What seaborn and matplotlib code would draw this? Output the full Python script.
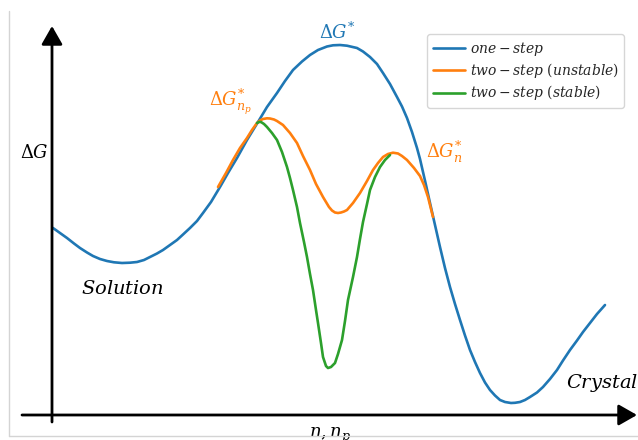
import matplotlib
matplotlib.use("Agg")
import matplotlib.pyplot as plt
from matplotlib.lines import Line2D
import pandas as pd
import seaborn as sns

# Energy profiles: reaction coordinate n (x) and free energy ΔG (y), arbitrary units
one_step_n = [1, 8, 15, 22, 28, 35, 41, 48, 55, 62, 70, 78, 85, 92, 98, 105, 111,
              118, 125, 131, 138, 145, 151, 159, 168, 176, 185, 195, 206, 215, 225,
              233, 241, 250, 258, 266, 275, 281, 288, 295, 305, 311, 318, 325, 331,
              338, 345, 350, 355, 360, 365, 368, 371, 374, 378, 383, 388, 393, 398,
              403, 408, 413, 418, 423, 428, 433, 438, 443, 448, 453, 459, 463, 468,
              473, 478, 485, 491, 498, 505, 511, 518, 525, 531, 538, 545, 553]
one_step_g = [187, 182, 177, 171.5, 167, 162.5, 159, 156, 154, 152.7, 152, 152.3,
              153, 155, 158, 161.5, 165, 170, 175, 180.5, 187, 194, 202, 213, 228,
              242, 257, 275, 293, 308, 322, 334, 345, 353.5, 360, 365, 368.5, 369.7,
              370, 369.3, 367, 363.5, 358, 351, 342, 331, 318, 308.5, 297, 283, 267,
              256, 243, 230, 212, 190, 168, 147, 128, 111, 95, 79.5, 65, 53, 42,
              32.5, 25, 19.5, 15, 13, 12, 12.2, 13, 15, 18, 22.5, 28, 36, 45, 54.5,
              65, 74.5, 83, 92, 101, 110]

unstable_n = [166, 174, 181, 188, 195, 200, 205, 208, 211, 215, 218, 222, 225, 228,
              231, 238, 245, 251, 258, 264, 271, 277, 280, 283, 286, 289, 292, 295,
              301, 308, 315, 321, 326, 331, 336, 341, 346, 350, 355, 362, 368, 372,
              376, 381]
unstable_g = [228, 242, 255, 267, 277, 285, 292, 294.5, 296, 296.7, 296.5, 295.5,
              294, 292, 290, 282, 272, 259, 245, 231, 218, 208, 204.5, 202.5, 202,
              202.5, 203.5, 205, 212, 222, 234, 245, 252, 258, 261, 262.3, 261.5,
              259, 255, 247, 239, 230, 218, 198]

stable_n = [205, 207, 209, 212, 215, 220, 225, 230, 235, 238, 241, 245, 248, 252,
            255, 258, 261, 264, 266, 269, 271, 274, 276, 279, 283, 286, 290, 293,
            296, 301, 305, 308, 311, 315, 318, 323, 328, 333, 338]
stable_g = [292, 293, 293, 291, 288, 282, 275, 263, 248, 237, 225, 208, 192, 173,
            158, 141, 125, 105, 92, 72, 58, 49, 47, 48, 52, 61, 75, 94, 115, 138,
            158, 176, 193, 211, 225, 238, 248, 255, 260]

series_names = [r"$one - step$", r"$two - step\ (unstable)$", r"$two - step\ (stable)$"]
series_colors = ["#1f77b4", "#ff7f0e", "#2ca02c"]

df = pd.concat([
    pd.DataFrame({"n": one_step_n, "G": one_step_g, "path": series_names[0]}),
    pd.DataFrame({"n": unstable_n, "G": unstable_g, "path": series_names[1]}),
    pd.DataFrame({"n": stable_n, "G": stable_g, "path": series_names[2]}),
], ignore_index=True)

sns.set_style("white")
plt.rcParams["mathtext.fontset"] = "custom"
plt.rcParams["mathtext.it"] = "DejaVu Serif:italic"
plt.rcParams["mathtext.rm"] = "DejaVu Serif"
plt.rcParams["mathtext.cal"] = "DejaVu Serif:italic"

W, H = 638, 440
fig = plt.figure(figsize=(W / 100, H / 100), dpi=100)
ax = fig.add_axes([0, 0, 1, 1])
ax.set_xlim(-52, W - 52)
ax.set_ylim(415 - H, 415)
ax.set_axis_off()

sns.lineplot(data=df, x="n", y="G", hue="path", palette=dict(zip(series_names, series_colors)),
             sort=False, estimator=None, linewidth=1.9, legend=False, ax=ax)

# Axes drawn as arrows
arrow_style = dict(arrowstyle="-|>,head_length=0.7,head_width=0.4",
                   lw=2, color="black", mutation_scale=16, shrinkA=0, shrinkB=0)
ax.annotate("", xy=(0, 389), xytext=(0, -7), arrowprops=arrow_style)
ax.annotate("", xy=(585, 0), xytext=(-30, 0), arrowprops=arrow_style)

# Light frame on the left and bottom
fig.add_artist(Line2D([8.5 / W, 8.5 / W], [1 - 11 / H, 1 - 436 / H], color="#d4d4d4", lw=1))
fig.add_artist(Line2D([8.5 / W, 1], [1 - 436 / H, 1 - 436 / H], color="#d4d4d4", lw=1))

fs = 13
ax.text(285, 383, r"$\Delta G^{*}$", color=series_colors[0], fontsize=fs, ha="center", va="center")
ax.text(178, 313, r"$\Delta G^{*}_{n_p}$", color=series_colors[1], fontsize=fs, ha="center", va="center")
ax.text(392, 263, r"$\Delta G^{*}_{n}$", color=series_colors[1], fontsize=fs, ha="center", va="center")
ax.text(-18, 262, r"$\Delta G$", color="black", fontsize=fs, ha="center", va="center")
ax.text(70, 127, r"$Solution$", color="black", fontsize=14, ha="center", va="center")
ax.text(514, 32, r"$Crystal$", color="black", fontsize=14, ha="left", va="center")
ax.text(278, -23, r"$n, n_p$", color="black", fontsize=fs, ha="center", va="baseline")

handles = [Line2D([], [], color=c, lw=1.9) for c in series_colors]
leg = fig.legend(handles, series_names, loc="upper right",
                 bbox_to_anchor=(624 / W, 1 - 34 / H), borderaxespad=0,
                 fontsize=10, handlelength=2.3, handletextpad=0.35,
                 labelspacing=0.25, borderpad=0.4, frameon=True, fancybox=True)
leg.get_frame().set_edgecolor("#cccccc")
leg.get_frame().set_linewidth(1)

fig.savefig("out.png", dpi=100)
